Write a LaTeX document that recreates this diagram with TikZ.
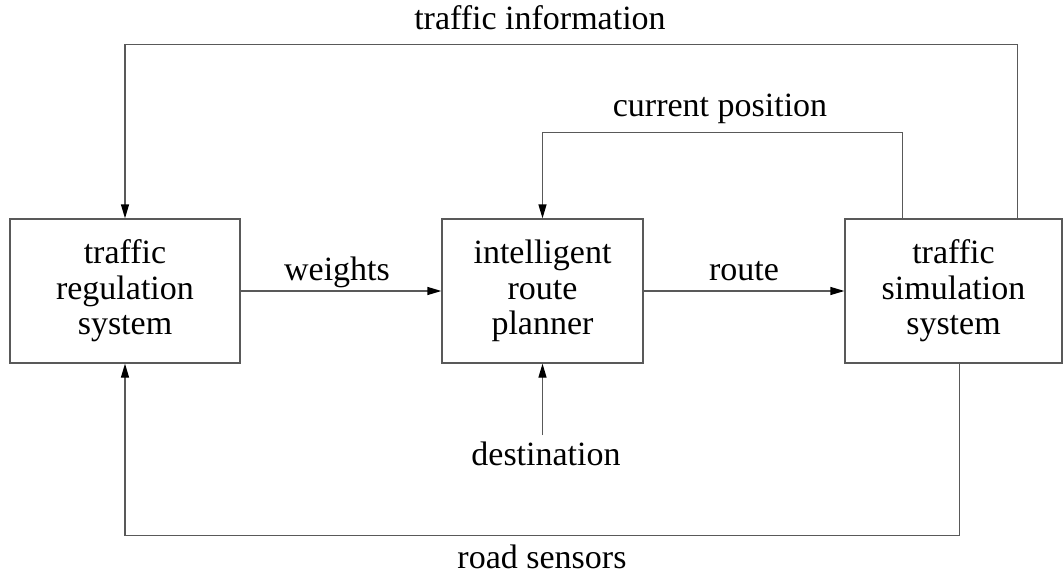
\documentclass[tikz,border=0pt]{standalone}
\usepackage{fontspec}
\setmainfont{Liberation Serif}
\usetikzlibrary{arrows.meta}
\begin{document}
\begin{tikzpicture}[x=1pt,y=-1pt,
  every node/.style={font=\fontsize{34}{35.5}\selectfont},
  block/.style={draw=black!65, line width=1.3pt, minimum height=144pt, align=center, inner sep=0pt},
  conn/.style={draw=black!65, line width=1.3pt},
  arr/.style={conn, -{Triangle[length=14pt,width=8pt,color=black]}},
  lbl/.style={anchor=base, inner sep=0pt}]
\useasboundingbox (0,0) rectangle (1063,575);
\node[block, minimum width=230pt] (trl) at (125,291) {traffic\\regulation\\system};
\node[block, minimum width=201pt] (irp) at (542.5,291) {intelligent\\route\\planner};
\node[block, minimum width=217pt] (ts) at (953.5,291) {traffic\\simulation\\system};
\node[lbl] (lti) at (540,30) {traffic information};
\node[lbl] (lcp) at (720,117) {current position};
\node[lbl] (lw) at (337,280) {weights};
\node[lbl] (lr) at (744,280) {route};
\node[lbl] (ld) at (546,465) {destination};
\node[lbl] (lrs) at (542,568) {road sensors};
\draw[arr] (trl.east) -- (irp.west);
\draw[arr] (irp.east) -- (ts.west);
\draw[arr] ([xshift=173pt]ts.north west) |- ([yshift=174pt]trl.north) -- (trl.north);
\draw[arr] ([xshift=58pt]ts.north west) |- ([yshift=86pt]irp.north) -- (irp.north);
\draw[arr] ([xshift=115pt]ts.south west) |- ([yshift=-172pt]trl.south) -- (trl.south);
\draw[arr] ([yshift=6pt]irp.south |- ld.north) -- (irp.south);
\end{tikzpicture}
\end{document}
